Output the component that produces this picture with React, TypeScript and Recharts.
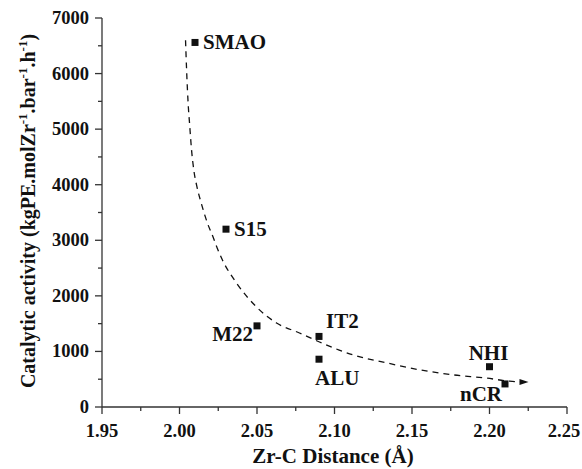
import { ComposedChart, Scatter, Line, XAxis, YAxis, Label } from 'recharts';

// catalysts: Zr-C distance (Å) vs catalytic activity
const catalysts = ['SMAO', 'S15', 'M22', 'IT2', 'ALU', 'NHI', 'nCR'];
const zrcDistance = [2.01, 2.03, 2.05, 2.09, 2.09, 2.2, 2.21];
const activity = [6560, 3200, 1460, 1270, 860, 725, 415];

// dashed trend curve
const trendX = [2.0039, 2.0046, 2.0056, 2.0066, 2.0077, 2.0093, 2.0112, 2.014, 2.018, 2.0219, 2.0243, 2.0277, 2.0368, 2.0497, 2.0626, 2.0774, 2.0903, 2.1116, 2.1335, 2.1548, 2.1761, 2.198, 2.2129, 2.2213];
const trendY = [6600, 6050, 5450, 5060, 4650, 4250, 3970, 3671, 3311, 3041, 2861, 2645, 2231, 1799, 1512, 1332, 1170, 940, 795, 670, 580, 520, 465, 452];

const xMajor = [1.95, 2.0, 2.05, 2.1, 2.15, 2.2, 2.25];
const xMinor = [1.975, 2.025, 2.075, 2.125, 2.175, 2.225];
const yMajor = [0, 1000, 2000, 3000, 4000, 5000, 6000, 7000];
const yMinor = [500, 1500, 2500, 3500, 4500, 5500, 6500];

const points = catalysts.map((name, i) => ({ name, x: zrcDistance[i], y: activity[i] }));
const trend = trendX.map((x, i) => ({ x, ty: trendY[i] }));

// label placement relative to each marker
const labelPos: Record<string, { dx: number; dy: number; anchor: 'start' | 'middle' | 'end' }> = {
  SMAO: { dx: 8, dy: 7, anchor: 'start' },
  S15: { dx: 8, dy: 7, anchor: 'start' },
  M22: { dx: -4, dy: 15, anchor: 'end' },
  IT2: { dx: 7, dy: -8, anchor: 'start' },
  ALU: { dx: -4, dy: 26, anchor: 'start' },
  NHI: { dx: -1, dy: -7, anchor: 'middle' },
  nCR: { dx: -3, dy: 17, anchor: 'end' },
};

const serif = { fontFamily: '"Liberation Serif", "Times New Roman", serif', fontWeight: 700 };
const INK = '#111';

const PointShape = (props: any) => {
  const { cx, cy, payload } = props;
  const p = labelPos[payload.name];
  return (
    <g>
      <rect x={cx - 3.5} y={cy - 3.5} width={7} height={7} fill={INK} />
      <text x={cx + p.dx} y={cy + p.dy} textAnchor={p.anchor} style={{ ...serif, fontSize: 21 }} fill={INK}>
        {payload.name}
      </text>
    </g>
  );
};

const ArrowDot = (props: any) => {
  const { cx, cy, index } = props;
  if (index !== trend.length - 1) return <g key={index} />;
  return <path key={index} d={`M${cx - 3},${cy - 3} L${cx + 6},${cy} L${cx - 3},${cy + 3} Z`} fill={INK} />;
};

const XTick = (props: any) => {
  const { x, y, payload } = props;
  const major = xMajor.includes(payload.value);
  // last label sits at the page edge, nudge it in a little
  const shift = payload.value === 2.25 ? -3 : 0;
  return (
    <g>
      <line x1={x} y1={y} x2={x} y2={y + (major ? 7 : 4)} stroke="#333" strokeWidth={1.3} />
      {major && (
        <text x={x + shift} y={y + 30} textAnchor="middle" style={{ ...serif, fontSize: 18.5 }} fill={INK}>
          {payload.value.toFixed(2)}
        </text>
      )}
    </g>
  );
};

const YTick = (props: any) => {
  const { x, y, payload } = props;
  const major = yMajor.includes(payload.value);
  return (
    <g>
      <line x1={x} y1={y} x2={x - (major ? 7 : 4)} y2={y} stroke="#333" strokeWidth={1.3} />
      {major && (
        <text x={x - 13} y={y + 6} textAnchor="end" style={{ ...serif, fontSize: 18.5 }} fill={INK}>
          {payload.value}
        </text>
      )}
    </g>
  );
};

const YTitle = () => (
  <text transform="translate(35,211) rotate(-90)" textAnchor="middle" style={{ ...serif, fontSize: 20 }} fill={INK}>
    Catalytic activity (kgPE.molZr
    <tspan fontSize={13} dy={-8}>-1</tspan>
    <tspan dy={8}>.bar</tspan>
    <tspan fontSize={13} dy={-8}>-1</tspan>
    <tspan dy={8}>.h</tspan>
    <tspan fontSize={13} dy={-8}>-1</tspan>
    <tspan dy={8}>)</tspan>
  </text>
);

const XTitle = () => (
  <text x={333} y={463} textAnchor="middle" style={{ ...serif, fontSize: 21 }} fill={INK}>
    Zr-C Distance (Å)
  </text>
);

export default function App() {
  return (
    <div style={{ position: 'absolute', left: 0, top: 0, background: '#fff' }}>
      <ComposedChart width={582} height={469} margin={{ top: 18, right: 15, bottom: 0, left: 0 }}>
        <XAxis
          type="number"
          dataKey="x"
          domain={[1.95, 2.25]}
          ticks={[...xMajor, ...xMinor].sort((a, b) => a - b)}
          tick={<XTick />}
          tickLine={false}
          tickSize={0}
          tickMargin={0}
          height={62}
          stroke="#333"
          strokeWidth={1.3}
          interval={0}
          allowDataOverflow
        >
          <Label content={<XTitle />} />
        </XAxis>
        <YAxis
          type="number"
          domain={[0, 7000]}
          ticks={[...yMajor, ...yMinor].sort((a, b) => a - b)}
          tick={<YTick />}
          tickLine={false}
          tickSize={0}
          tickMargin={0}
          width={102}
          stroke="#333"
          strokeWidth={1.3}
          interval={0}
        >
          <Label content={<YTitle />} />
        </YAxis>
        <Line
          data={trend}
          dataKey="ty"
          type="monotone"
          stroke={INK}
          strokeWidth={1.3}
          strokeDasharray="6 5"
          dot={<ArrowDot />}
          activeDot={false}
          isAnimationActive={false}
        />
        <Scatter data={points} dataKey="y" shape={<PointShape />} isAnimationActive={false} />
      </ComposedChart>
    </div>
  );
}
